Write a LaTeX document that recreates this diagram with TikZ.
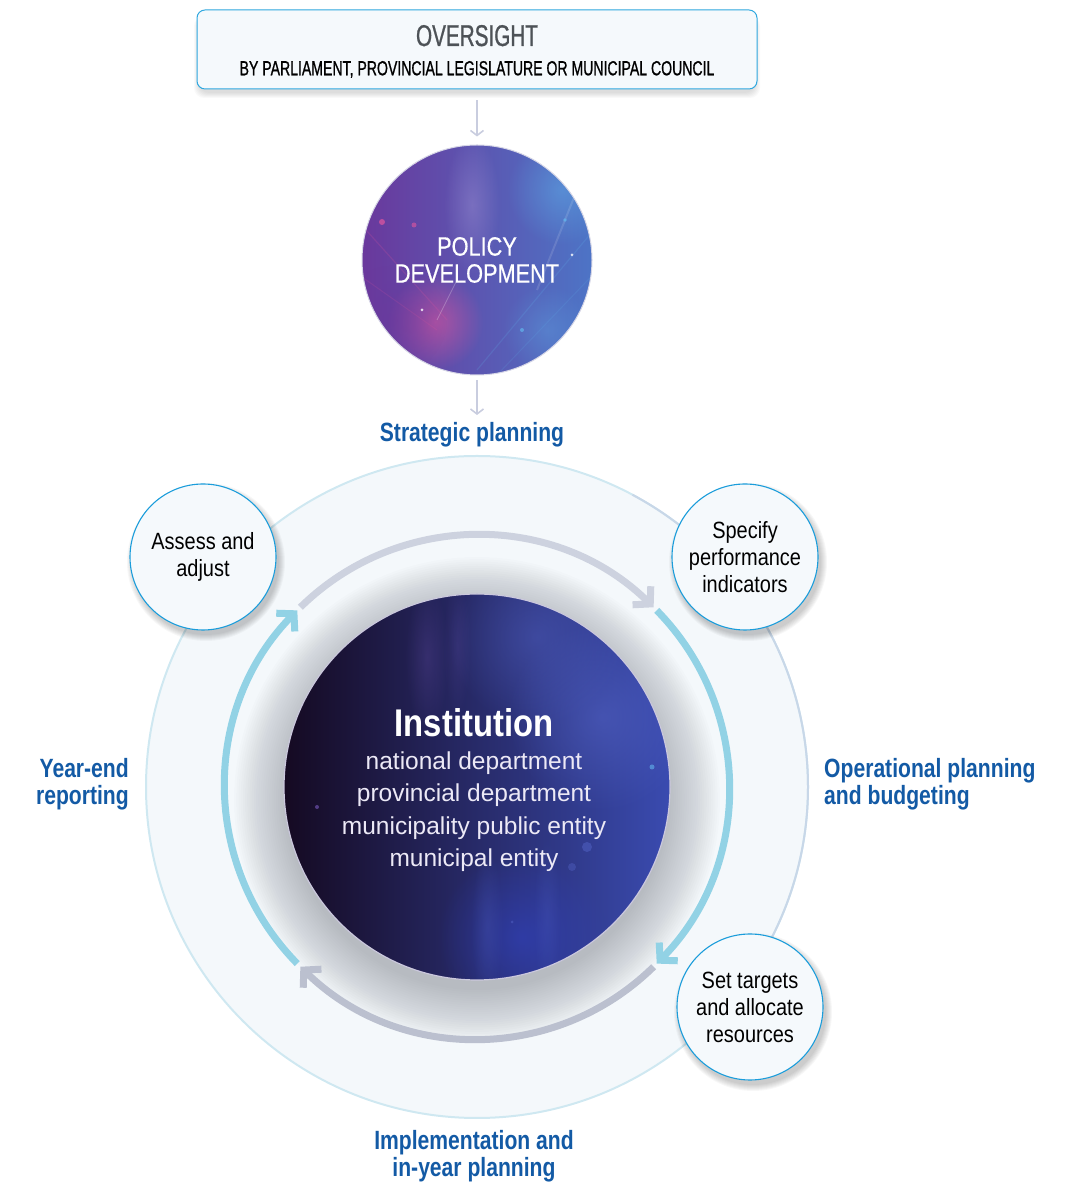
\documentclass[tikz,border=0pt]{standalone}
\usepackage{fontspec}
\setmainfont{Liberation Sans}
\newfontfamily\capsA[FakeStretch=0.69,FakeBold=0.8]{Liberation Sans}
\newfontfamily\polf[FakeStretch=0.82,FakeBold=0.6]{Liberation Sans}
\newfontfamily\condr[FakeStretch=0.85]{Liberation Sans}
\newfontfamily\condb[FakeStretch=0.8]{Liberation Sans}
\usetikzlibrary{arrows.meta,fadings,calc}
\definecolor{boxedge}{HTML}{2EA7DF}
\definecolor{boxfill}{HTML}{F5F9FC}
\definecolor{ovgray}{HTML}{4D5257}
\definecolor{lblblue}{HTML}{135AA5}
\definecolor{thinarr}{HTML}{C9CDDF}
\definecolor{ringedge}{HTML}{CFE8F1}
\definecolor{ringedgeb}{HTML}{C8D7E8}
\definecolor{bgpale}{HTML}{F4F8FB}
\definecolor{shdark}{HTML}{8C919C}
\definecolor{arcgray}{HTML}{CDD2DF}
\definecolor{arcgrayb}{HTML}{BBC0CF}
\definecolor{arcblue}{HTML}{92D2E5}
\definecolor{circedge}{HTML}{1B9DDB}
\definecolor{pviolet}{HTML}{6A389C}
\definecolor{pblue}{HTML}{4D74C6}
\definecolor{pedge}{HTML}{D6D6E6}
\definecolor{pglow}{HTML}{E2579F}
\definecolor{plav}{HTML}{A596D6}
\definecolor{pcyan}{HTML}{62B4EC}
\definecolor{idark}{HTML}{150A22}
\definecolor{imid}{HTML}{221852}
\definecolor{iblue}{HTML}{3A4BB0}
\definecolor{iedge}{HTML}{CBC8DD}
\definecolor{iglow}{HTML}{5363C6}
\definecolor{ibot}{HTML}{3344C8}
\definecolor{ipurp}{HTML}{7A5AC0}
\definecolor{instxt}{HTML}{ECE9F6}
\tikzfading[name=softglow, inner color=transparent!0, outer color=transparent!100]
\begin{document}
\begin{tikzpicture}[x=1pt,y=1pt,
  lbl/.style={text=lblblue, font=\condb\bfseries\fontsize{26.4}{27}\selectfont, inner sep=0pt},
  stagecirc/.style={circle, minimum size=146pt, inner sep=0pt, draw=circedge, line width=1.1pt, fill=boxfill, align=center, font=\condr\fontsize{23.5}{27}\selectfont},
  thinarrow/.style={draw=thinarr, line width=1.6pt, -{Straight Barb[length=5pt,width=13pt]}},
  cyclearc/.style={line width=7pt, -{Straight Barb[length=12pt,width=26pt,sharp]}},
  glow/.style={path fading=softglow},
]
\useasboundingbox (0,0) rectangle (1076,1186);
\coordinate (C) at (477,399);

% big outer ring
\draw[draw=ringedge, line width=2pt, fill=bgpale] (C) circle (331);
\draw[draw=ringedgeb, line width=2pt] ($(C)+(62:331)$) arc[start angle=62, end angle=-38, radius=331];

% soft shadow around the institution (stacked translucent discs)
\foreach \k in {0,...,24}{
  \fill[shdark, opacity=0.028] (477,386) circle (190+2.2*\k);
}

% cycle arrows
\coordinate (a1) at ($(C)+(134.5:252)$);
\coordinate (a2) at ($(C)+(44.5:252)$);
\coordinate (a3) at ($(C)+(-45.5:252)$);
\coordinate (a4) at ($(C)+(-135.5:252)$);
\draw[cyclearc, arcgray] (a1) arc[start angle=134.5, end angle=45.5, radius=252];
\draw[cyclearc, arcblue] (a2) arc[start angle=44.5, end angle=-44.5, radius=252];
\draw[cyclearc, arcgrayb] (a3) arc[start angle=-45.5, end angle=-134.5, radius=252];
\draw[cyclearc, arcblue] (a4) arc[start angle=-135.5, end angle=-224.5, radius=252];

% shadows of stage circles
\foreach \cx/\cy in {203/629, 745/629, 750/179}{
  \foreach \k in {1,...,7}{
    \fill[black, opacity=0.03] (\cx+3,\cy-5) circle (72+\k);
  }
}
\node[stagecirc] (assess) at (203,629) {Assess and\\adjust};
\node[stagecirc] (specify) at (745,629) {Specify\\performance\\indicators};
\node[stagecirc] (settargets) at (750,179) {Set targets\\and allocate\\resources};

% institution circle
\node[circle, minimum size=386pt, inner sep=0pt, draw=iedge, line width=1.2pt,
      left color=idark, middle color=imid, right color=iblue,
      path picture={
        \coordinate (ic) at (path picture bounding box.center);
        \fill[iglow, opacity=0.55, glow] ($(ic)+(125,70)$) circle (95);
        \fill[iglow, opacity=0.45, glow] ($(ic)+(60,150)$) circle (90);
        \fill[ibot, opacity=0.55, glow] ($(ic)+(45,-150)$) circle (85);
        \fill[ipurp, opacity=0.22, glow] ($(ic)+(-50,130)$) ellipse (22 and 75);
        \fill[ipurp, opacity=0.16, glow] ($(ic)+(-20,140)$) ellipse (14 and 70);
        \fill[iglow, opacity=0.25, glow] ($(ic)+(10,-140)$) ellipse (16 and 80);
        \fill[iglow, opacity=0.22, glow] ($(ic)+(70,-130)$) ellipse (14 and 80);
        \fill[pcyan, opacity=0.6] ($(ic)+(175,20)$) circle (2.5);
        \fill[iglow, opacity=0.5] ($(ic)+(110,-60)$) circle (5);
        \fill[iglow, opacity=0.4] ($(ic)+(95,-80)$) circle (4);
        \fill[ipurp, opacity=0.6] ($(ic)+(-160,-20)$) circle (2);
        \fill[iglow, opacity=0.5] ($(ic)+(35,-135)$) circle (1.5);
      }] (inst) at (C) {};
\node[text=white, font=\condr\bfseries\fontsize{38.6}{40}\selectfont, anchor=base, inner sep=0pt] (insttitle) at (474,449.3) {Institution};
\node[text=instxt, align=center, font=\fontsize{24.5}{32.4}\selectfont, inner sep=0pt] (instlines) at (474,374.5) {national department\\provincial department\\municipality public entity\\municipal entity};

% oversight box
\foreach \k in {1,...,6}{
  \fill[black, opacity=0.025, rounded corners=10pt] (197-\k+3,1097-\k-3) rectangle (757+\k-3,1170);
}
\node[draw=boxedge, fill=boxfill, rounded corners=8pt, minimum width=560pt, minimum height=79pt, line width=1pt, inner sep=0pt] (oversight) at (477,1136.5) {};
\node[text=ovgray, font=\capsA\fontsize{30}{30}\selectfont, anchor=base, inner sep=0pt] (ovtitle) at (477,1140) {OVERSIGHT};
\node[text=black, font=\capsA\fontsize{20.4}{21}\selectfont, anchor=base, inner sep=0pt] (ovsub) at (477,1110.7) {BY PARLIAMENT, PROVINCIAL LEGISLATURE OR MUNICIPAL COUNCIL};

% policy circle
\node[circle, minimum size=230pt, inner sep=0pt, draw=pedge, line width=1pt,
      left color=pviolet, right color=pblue,
      path picture={
        \coordinate (pc) at (path picture bounding box.center);
        \fill[pglow, opacity=0.6, glow] ($(pc)+(-42,-62)$) circle (48);
        \fill[plav, opacity=0.40, glow] ($(pc)+(-5,55)$) ellipse (28 and 70);
        \fill[pcyan, opacity=0.45, glow] ($(pc)+(85,70)$) circle (55);
        \fill[pviolet, opacity=0.5, glow] ($(pc)+(-85,-60)$) circle (55);
        \fill[pcyan, opacity=0.30, glow] ($(pc)+(70,-70)$) circle (45);
        \draw[pcyan, opacity=0.18, line width=1.2pt] ($(pc)+(0,-110)$) -- ($(pc)+(125,40)$);
        \draw[pcyan, opacity=0.15, line width=1pt] ($(pc)+(20,-115)$) -- ($(pc)+(130,0)$);
        \draw[white, opacity=0.12, line width=2pt] ($(pc)+(60,-30)$) -- ($(pc)+(110,95)$);
        \draw[pglow, opacity=0.18, line width=1.2pt] ($(pc)+(-30,-60)$) -- ($(pc)+(-120,40)$);
        \draw[pglow, opacity=0.15, line width=1pt] ($(pc)+(-40,-70)$) -- ($(pc)+(-125,-10)$);
        \draw[white, opacity=0.25, line width=0.8pt] ($(pc)+(-40,-60)$) -- ($(pc)+(-20,-20)$);
        \fill[pglow, opacity=0.7] ($(pc)+(-95,38)$) circle (3);
        \fill[pglow, opacity=0.6] ($(pc)+(-63,35)$) circle (2.5);
        \fill[pcyan, opacity=0.8] ($(pc)+(88,40)$) circle (1.8);
        \fill[white, opacity=0.8] ($(pc)+(95,5)$) circle (1.5);
        \fill[pcyan, opacity=0.7] ($(pc)+(45,-70)$) circle (2);
        \fill[pcyan, opacity=0.7] ($(pc)+(75,-90)$) circle (1.8);
        \fill[white, opacity=0.8] ($(pc)+(-55,-50)$) circle (1.5);
        \fill[pglow, opacity=0.6] ($(pc)+(-62,98)$) circle (2);
      },
      text=white, align=center, font=\polf\fontsize{26.5}{27}\selectfont] (policy) at (477,926) {POLICY\\DEVELOPMENT};

% connectors
\coordinate (strattop) at (477,771);
\draw[thinarrow, shorten <=11pt, shorten >=8pt] (oversight) -- (policy);
\draw[thinarrow, shorten <=5pt] (policy) -- (strattop);

% phase labels
\node[lbl, anchor=base] (strat) at (472,744.3) {Strategic planning};
\node[lbl, anchor=east, align=right] (yearend) at (129,402) {Year-end\\reporting};
\node[lbl, anchor=west, align=left] (oper) at (824,402) {Operational planning\\and budgeting};
\node[lbl, align=center] (impl) at (474,30) {Implementation and\\in-year planning};
\end{tikzpicture}
\end{document}
